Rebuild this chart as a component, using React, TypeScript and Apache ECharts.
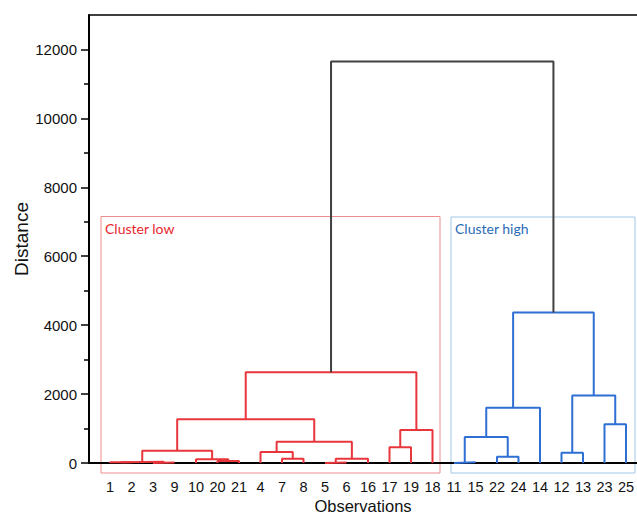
import React, { useEffect, useRef } from 'react';
import * as echarts from 'echarts';

const leafOrder = ['1', '2', '3', '9', '10', '20', '21', '4', '7', '8', '5', '6', '16', '17', '19', '18', '11', '15', '22', '24', '14', '12', '13', '23', '25'];
const lowCluster = ['1', '2', '3', '9', '10', '20', '21', '4', '7', '8', '5', '6', '16', '17', '19', '18'];
const highCluster = ['11', '15', '22', '24', '14', '12', '13', '23', '25'];
// merge m_k joins mergeLeft[k] and mergeRight[k] at mergeHeight[k]
const mergeLeft = ['1', '3', 'm0', '20', '10', 'm2', '7', '4', '5', 'm8', 'm7', 'm5', '17', 'm12', 'm11', '11', '22', 'm15', 'm17', '12', '23', 'm19', 'm18', 'm14'];
const mergeRight = ['2', '9', 'm1', '21', 'm3', 'm4', '8', 'm6', '6', '16', 'm9', 'm10', '19', '18', 'm13', '15', '24', 'm16', '14', '13', '25', 'm20', 'm21', 'm22'];
const mergeHeight = [25, 12, 35, 58, 107, 357, 125, 319, 18, 125, 617, 1267, 455, 957, 2630, 20, 183, 754, 1604, 300, 1121, 1962, 4368, 11652];
const yMajorTicks = [0, 2000, 4000, 6000, 8000, 10000, 12000];
const yMinorTicks = [1000, 3000, 5000, 7000, 9000, 11000];

const RED = '#e8363c';
const BLUE = '#2f6fd4';
const GRAY = '#404040';

type NodeInfo = { x: number; h: number; leaves: string[] };

function buildSeries() {
  const nodes: Record<string, NodeInfo> = {};
  leafOrder.forEach((l, i) => {
    nodes[l] = { x: i, h: 0, leaves: [l] };
  });
  const series: any[] = [];
  mergeHeight.forEach((h, k) => {
    const a = nodes[mergeLeft[k]];
    const b = nodes[mergeRight[k]];
    const leaves = a.leaves.concat(b.leaves);
    nodes['m' + k] = { x: (a.x + b.x) / 2, h, leaves };
    let color = GRAY;
    if (leaves.every((l) => lowCluster.includes(l))) color = RED;
    else if (leaves.every((l) => highCluster.includes(l))) color = BLUE;
    series.push({
      type: 'line',
      xAxisIndex: 0,
      yAxisIndex: 0,
      symbol: 'none',
      silent: true,
      z: color === GRAY ? 4 : 3,
      lineStyle: { color, width: 2 },
      data: [
        [a.x, a.h],
        [a.x, h],
        [b.x, h],
        [b.x, b.h],
      ],
    });
  });
  return series;
}

export default function App() {
  const ref = useRef<HTMLDivElement>(null);
  useEffect(() => {
    if (!ref.current) return;
    const chart = echarts.init(ref.current, null, { renderer: 'svg' });
    const gridPos = { left: 89, top: 15, right: 0, bottom: 50, containLabel: false, outerBoundsMode: 'none' };
    const axisFont = 'Liberation Sans';
    chart.setOption({
      animation: false,
      backgroundColor: '#ffffff',
      grid: [{ ...gridPos }, { ...gridPos }],
      xAxis: [
        {
          type: 'value',
          gridIndex: 0,
          min: -0.977,
          max: 24.512,
          position: 'bottom',
          axisLine: { show: true, onZero: false, lineStyle: { color: '#000', width: 2 } },
          axisTick: { show: false },
          splitLine: { show: false },
          axisLabel: {
            customValues: leafOrder.map((_, i) => i),
            formatter: (v: number) => leafOrder[Math.round(v)] ?? '',
            fontSize: 14.5,
            color: '#111',
            fontFamily: axisFont,
            margin: 16,
          },
          name: 'Observations',
          nameLocation: 'middle',
          nameMoveOverlap: false,
          nameGap: 34,
          nameTextStyle: { fontSize: 16.5, color: '#111', fontFamily: axisFont },
        },
        {
          type: 'value',
          gridIndex: 0,
          min: -0.977,
          max: 24.512,
          position: 'top',
          axisLine: { show: true, onZero: false, lineStyle: { color: '#000', width: 1.5 } },
          axisTick: { show: false },
          axisLabel: { show: false },
          splitLine: { show: false },
        },
        {
          type: 'value',
          gridIndex: 1,
          min: 0,
          max: 1,
          show: false,
        },
      ],
      yAxis: [
        {
          type: 'value',
          gridIndex: 0,
          min: 0,
          max: 13000,
          interval: 2000,
          axisLine: { show: true, onZero: false, lineStyle: { color: '#000', width: 2 } },
          axisTick: { show: true, length: 8, customValues: yMajorTicks, lineStyle: { color: '#000', width: 1.5 } },
          axisLabel: {
            customValues: yMajorTicks,
            formatter: (v: number) => String(v),
            fontSize: 15,
            color: '#111',
            fontFamily: axisFont,
            margin: 12,
          },
          splitLine: { show: false },
          name: 'Distance',
          nameLocation: 'middle',
          nameMoveOverlap: false,
          nameGap: 58,
          nameTextStyle: { fontSize: 19, color: '#111', fontFamily: axisFont },
        },
        {
          type: 'value',
          gridIndex: 1,
          min: 0,
          max: 13000,
          interval: 1000,
          axisLine: { show: false },
          axisTick: { show: true, length: 5, customValues: yMinorTicks, lineStyle: { color: '#000', width: 1.5 } },
          axisLabel: { show: false },
          splitLine: { show: false },
        },
      ],
      graphic: [
        {
          type: 'rect',
          z: 0,
          silent: true,
          shape: { x: 101, y: 216.5, width: 339, height: 256.5 },
          style: { fill: 'none', stroke: '#ee8d8f', lineWidth: 1 },
        },
        {
          type: 'rect',
          z: 0,
          silent: true,
          shape: { x: 451, y: 217, width: 184, height: 256 },
          style: { fill: 'none', stroke: '#a4c8e8', lineWidth: 1 },
        },
        {
          type: 'text',
          z: 1,
          x: 105,
          y: 228,
          style: {
            text: 'Cluster low',
            fill: '#e8262e',
            font: '14px Lato',
            verticalAlign: 'middle',
            align: 'left',
          },
        },
        {
          type: 'text',
          z: 1,
          x: 455,
          y: 228,
          style: {
            text: 'Cluster high',
            fill: '#2a6bb8',
            font: '14px Lato',
            verticalAlign: 'middle',
            align: 'left',
          },
        },
      ],
      series: buildSeries(),
    });
    return () => chart.dispose();
  }, []);
  return (
    <div
      ref={ref}
      style={{ position: 'fixed', left: 0, top: 0, width: 637, height: 513, background: '#fff' }}
    />
  );
}
